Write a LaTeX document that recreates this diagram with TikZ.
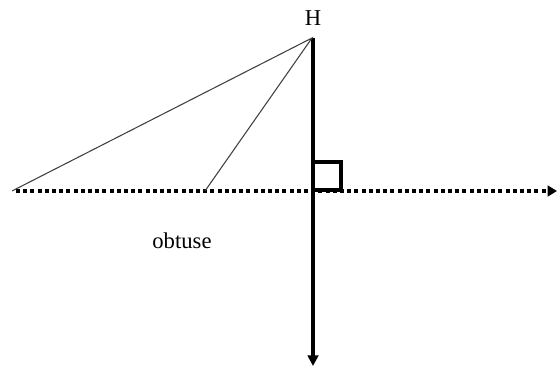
\documentclass[tikz,border=0pt]{standalone}
\usepackage{fontspec}
\setmainfont{Liberation Serif}
\usetikzlibrary{arrows.meta}
\begin{document}
\begin{tikzpicture}[x=0.75pt,y=-0.75pt,
  thinline/.style={draw=black!75,line width=0.8pt},
  axisline/.style={line width=3pt,-{Triangle[length=8pt,width=8pt]}},
  dottedaxis/.style={line width=3pt,dash pattern=on 3pt off 2.4pt,-{Triangle[length=7pt,width=8pt]}},
  lbl/.style={font=\fontsize{17}{19}\selectfont,inner sep=0pt}]
\useasboundingbox (0,0) rectangle (560,367);
\coordinate (top) at (312,38);
\coordinate (left) at (12,191);
\coordinate (mid) at (205,191);
\coordinate (foot) at (313,191);
\coordinate (dstart) at (16,191);
\coordinate (dend) at (557,191);
\coordinate (vtop) at (313,38);
\coordinate (vbot) at (313,366);
\coordinate (sq1) at (313,162);
\coordinate (sq2) at (341,190);
\node[lbl] (H) at (313,18) {H};
\node[lbl] (obt) at (182,241) {obtuse};
\draw[dottedaxis] (dstart) -- (dend);
\draw[axisline] (vtop) -- (vbot);
\draw[thinline] (left) -- (top) -- (mid);
\draw[line width=2.6pt] (sq1) rectangle (sq2);
\end{tikzpicture}
\end{document}
